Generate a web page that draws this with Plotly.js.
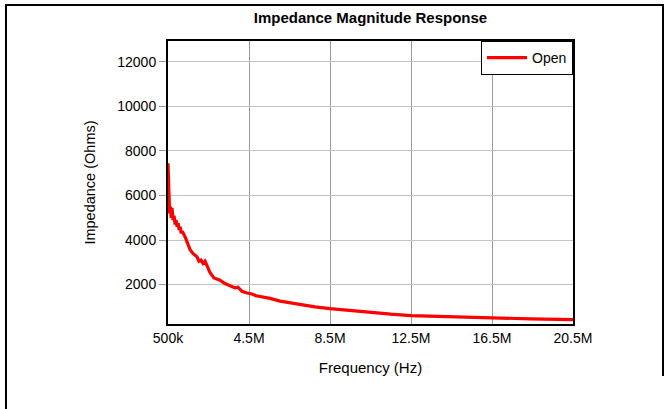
<!DOCTYPE html>
<html>
<head>
<meta charset="utf-8">
<script src="https://cdn.plot.ly/plotly-3.0.1.min.js"></script>
<style>
html,body{margin:0;padding:0;background:#fff;}
#wrap{position:relative;width:669px;height:409px;overflow:hidden;}
#frameL{position:absolute;left:5px;top:4px;width:2px;height:405px;background:#000;}
#frameT{position:absolute;left:5px;top:4px;width:659px;height:2px;background:#000;}
#frameR{position:absolute;left:662px;top:4px;width:2px;height:372px;background:#000;}
#chart{position:absolute;left:0;top:0;width:669px;height:409px;}
</style>
</head>
<body>
<div id="wrap">
<div id="chart"></div>
<div id="frameL"></div><div id="frameT"></div><div id="frameR"></div>
</div>
<script>
// Frequency in MHz and impedance in Ohms
const freqMHz = [0.50,0.52,0.55,0.58,0.62,0.66,0.70,0.75,0.80,0.85,0.90,0.95,1.00,1.05,1.10,1.15,1.20,1.34,1.59,1.73,1.93,2.03,2.13,2.23,2.33,2.43,2.57,2.77,3.07,3.31,3.56,3.81,3.96,4.15,4.40,4.65,4.85,5.14,5.54,6.03,6.38,7.02,7.76,8.50,9.49,10.5,11.5,12.5,14.4,16.5,18.4,20.5];
const impedance = [7450,6800,5600,5200,5500,5000,5450,4900,5100,4700,4900,4600,4750,4450,4600,4300,4400,4150,3570,3400,3250,3050,3100,2950,3050,2800,2550,2300,2200,2050,1950,1850,1880,1700,1620,1580,1500,1460,1380,1260,1200,1100,1000,920,830,740,670,610,550,500,460,430];
const xTickVals = [0.5e6,4.5e6,8.5e6,12.5e6,16.5e6,20.5e6];
const xTickText = ["500k","4.5M","8.5M","12.5M","16.5M","20.5M"];
const yTickVals = [2000,4000,6000,8000,10000,12000];
const yTickText = ["2000","4000","6000","8000","10000","12000"];
const seriesName = "Open";

const freqHz = freqMHz.map(f => f * 1e6);
const font = "Liberation Sans, Arial, sans-serif";

const W = 669, H = 409;
const mL = 168, mR = 96, mT = 41, mB = 85;
const pw = W - mL - mR;

Plotly.newPlot('chart', [{
  x: freqHz, y: impedance, type: 'scatter', mode: 'lines', name: seriesName,
  line: {color: '#ff0000', width: 3.2}
}], {
  width: W, height: H,
  margin: {l: mL, r: mR, t: mT, b: mB, pad: 0},
  paper_bgcolor: '#fff', plot_bgcolor: '#fff',
  font: {family: font, size: 14, color: '#000'},
  title: {text: '<b>Impedance Magnitude Response</b>', font: {family: font, size: 15, color: '#000'},
          x: (mL + pw / 2) / W, xanchor: 'center', y: 1 - 18 / H, yanchor: 'middle'},
  xaxis: {range: [0.5e6, 20.5e6], tickvals: xTickVals, ticktext: xTickText,
          showgrid: true, gridcolor: '#9a9a9a', gridwidth: 1, zeroline: false,
          showline: true, linecolor: '#000', linewidth: 2, mirror: true,
          ticks: '', tickfont: {size: 14},
          title: {text: 'Frequency (Hz)', font: {size: 15}, standoff: 18}},
  yaxis: {range: [230, 12940], tickvals: yTickVals, ticktext: yTickText,
          showgrid: true, gridcolor: '#c4c4c4', gridwidth: 1, zeroline: false,
          showline: true, linecolor: '#000', linewidth: 2, mirror: true,
          ticks: 'outside', ticklen: 7, tickcolor: '#9a9a9a', tickfont: {size: 14},
          title: {text: 'Impedance (Ohms)', font: {size: 14.5}, standoff: 18}},
  showlegend: true,
  legend: {x: 1, xanchor: 'right', y: 1, yanchor: 'top', bgcolor: '#fff',
           bordercolor: '#000', borderwidth: 1, font: {size: 14},
           itemwidth: 40, tracegroupgap: 0}
}, {displayModeBar: false, staticPlot: true});
</script>
</body>
</html>
